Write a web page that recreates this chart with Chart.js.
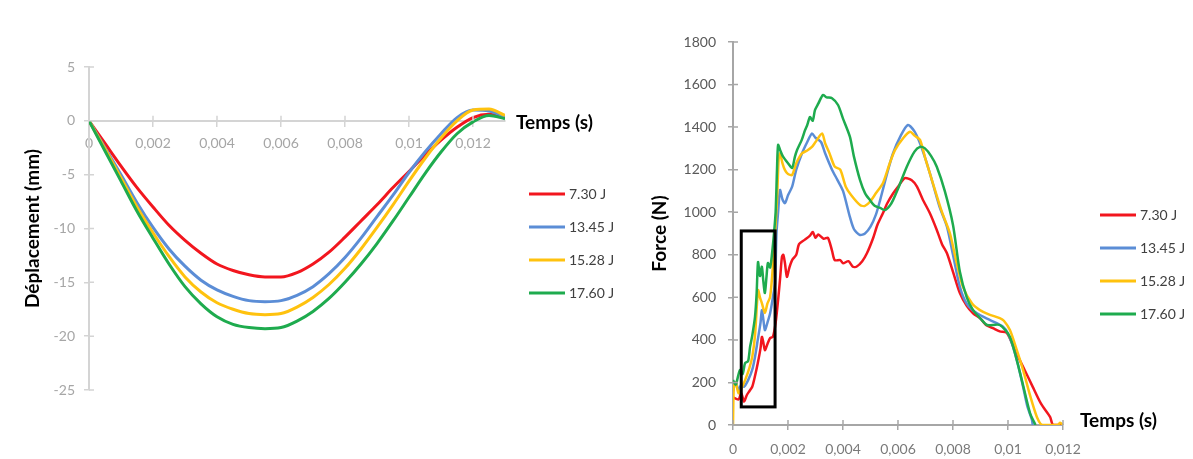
<!DOCTYPE html>
<html>
<head>
<meta charset="utf-8">
<script src="https://cdn.jsdelivr.net/npm/chart.js@4.4.1/dist/chart.umd.min.js"></script>
<style>
  html, body { margin: 0; padding: 0; background: #fff; overflow: hidden; }
  #wrap { position: relative; width: 1193px; height: 459px; }
  .panel { position: absolute; top: 0; height: 459px; }
</style>
</head>
<body>
<div id="wrap">
  <div class="panel" style="left:0;width:620px"><canvas id="dispChart"></canvas></div>
  <div class="panel" style="left:620px;width:573px"><canvas id="forceChart"></canvas></div>
</div>
<script>
// ---- data ----
const energyLabels = ["7.30 J", "13.45 J", "15.28 J", "17.60 J"];

// displacement (mm) vs time (s)
const dispTime = [0, 0.0005, 0.001, 0.0015, 0.002, 0.0025, 0.003, 0.0035, 0.004, 0.0045, 0.005, 0.0055, 0.006,
  0.0065, 0.007, 0.0075, 0.008, 0.0085, 0.009, 0.0095, 0.01, 0.0105, 0.011, 0.0115, 0.012, 0.0125, 0.013];
const disp730 = [0, -2.1, -4.2, -6.2, -8.0, -9.7, -11.1, -12.3, -13.3, -13.9, -14.3, -14.5, -14.5,
  -14.1, -13.3, -12.2, -10.8, -9.3, -7.8, -6.2, -4.7, -3.2, -1.8, -0.6, 0.3, 0.6, 0.3];
const disp1345 = [0, -2.5, -5.0, -7.6, -9.9, -11.9, -13.5, -14.8, -15.7, -16.3, -16.7, -16.8, -16.7,
  -16.2, -15.4, -14.2, -12.7, -10.9, -8.9, -6.9, -4.8, -2.9, -1.2, 0.3, 1.0, 0.9, 0.4];
const disp1528 = [0, -2.6, -5.3, -8.0, -10.4, -12.6, -14.5, -15.9, -16.9, -17.5, -17.9, -18.0, -17.9,
  -17.3, -16.4, -15.2, -13.7, -11.9, -9.9, -7.8, -5.6, -3.5, -1.6, 0.0, 1.0, 1.1, 0.5];
const disp1760 = [0, -2.8, -5.6, -8.4, -10.9, -13.3, -15.4, -17.0, -18.2, -18.9, -19.2, -19.3, -19.2,
  -18.6, -17.7, -16.5, -15.0, -13.3, -11.4, -9.3, -7.1, -4.9, -2.9, -1.2, -0.1, 0.5, 0.2];

// force (N) vs time (s), [t, F]
const force730 = [[0,130],[0.0002,120],[0.0003,150],[0.0004,110],[0.0005,140],[0.0006,160],[0.0007,180],
  [0.0008,230],[0.0009,290],[0.001,360],[0.00105,414],[0.0011,390],[0.00116,352],[0.00125,380],[0.00135,409],
  [0.00145,414],[0.00155,480],[0.00164,587],[0.00172,700],[0.00178,790],[0.00183,800],[0.00189,760],
  [0.00196,696],[0.00205,740],[0.00215,775],[0.0023,800],[0.0024,850],[0.0026,870],[0.0028,890],[0.0029,907],
  [0.003,880],[0.0031,895],[0.0033,875],[0.00345,880],[0.0036,820],[0.0037,775],[0.0039,775],[0.004,760],
  [0.0042,770],[0.00436,744],[0.0045,745],[0.0047,770],[0.00487,807],[0.0051,880],[0.00525,940],[0.00545,995],
  [0.0056,1040],[0.00582,1088],[0.006,1120],[0.00625,1160],[0.0065,1150],[0.00669,1120],[0.0069,1060],
  [0.00716,995],[0.0074,920],[0.0076,850],[0.00778,807],[0.008,720],[0.00825,620],[0.0085,560],[0.00873,525],
  [0.009,500],[0.0092,470],[0.00945,455],[0.0097,440],[0.00996,432],[0.0103,338],[0.0106,260],[0.0109,179],
  [0.0112,100],[0.01153,38],[0.01164,0],[0.012,0]];
const force1345 = [[0,160],[0.0001,200],[0.0002,164],[0.0003,190],[0.0004,180],[0.00055,211],[0.0007,260],
  [0.0008,320],[0.0009,400],[0.001,480],[0.00105,540],[0.0011,500],[0.00116,446],[0.00125,480],[0.00135,525],
  [0.00145,600],[0.00153,667],[0.00158,900],[0.00164,1000],[0.00171,1104],[0.0018,1060],[0.00189,1043],
  [0.002,1080],[0.00215,1120],[0.0023,1200],[0.00251,1277],[0.0027,1330],[0.00287,1370],[0.003,1350],
  [0.0032,1330],[0.00335,1277],[0.0036,1200],[0.0038,1151],[0.004,1100],[0.00425,978],[0.0044,920],
  [0.00462,893],[0.0048,900],[0.005,932],[0.0052,990],[0.00535,1057],[0.0056,1180],[0.00582,1277],
  [0.0061,1360],[0.00636,1410],[0.0066,1380],[0.0068,1324],[0.007,1250],[0.00716,1183],[0.0075,1030],
  [0.00778,932],[0.008,800],[0.00825,649],[0.0085,570],[0.00887,525],[0.00935,493],[0.00982,462],[0.01,430],
  [0.01018,368],[0.01035,290],[0.01055,179],[0.0107,90],[0.01087,25],[0.0109,0]];
const force1528 = [[0,0],[0.00003,180],[0.0001,200],[0.0002,150],[0.0003,170],[0.00044,211],[0.0006,270],
  [0.0007,320],[0.0008,420],[0.00091,634],[0.00098,600],[0.00105,573],[0.00116,526],[0.00125,570],[0.00135,602],
  [0.00145,744],[0.0016,1057],[0.00166,1250],[0.00171,1277],[0.0018,1230],[0.00189,1198],[0.002,1180],
  [0.00215,1175],[0.0023,1230],[0.00251,1277],[0.0027,1290],[0.00287,1307],[0.003,1330],[0.00324,1370],
  [0.00335,1324],[0.0035,1280],[0.0037,1214],[0.0039,1200],[0.0041,1120],[0.0043,1080],[0.00462,1034],
  [0.0048,1030],[0.00498,1049],[0.0052,1090],[0.00545,1136],[0.0057,1230],[0.00589,1292],[0.0062,1350],
  [0.00644,1378],[0.0066,1360],[0.0068,1340],[0.007,1250],[0.00727,1136],[0.0076,1000],[0.00789,900],
  [0.0081,780],[0.00836,649],[0.0087,570],[0.00898,540],[0.0093,520],[0.0097,502],[0.00985,490],[0.01007,446],
  [0.0103,360],[0.01055,258],[0.0108,140],[0.01105,38],[0.01124,0],[0.0118,0],[0.0119,10],[0.012,0]];
const force1760 = [[0,211],[0.0001,190],[0.00025,258],[0.00035,240],[0.00044,291],[0.00055,300],[0.00062,367],
  [0.0007,420],[0.0008,508],[0.00086,620],[0.00091,766],[0.00098,700],[0.00105,744],[0.0011,680],[0.00116,620],
  [0.00122,700],[0.00127,761],[0.00135,740],[0.00142,807],[0.00149,900],[0.00155,1000],[0.0016,1200],
  [0.00164,1316],[0.00172,1290],[0.00182,1261],[0.002,1230],[0.00215,1208],[0.00225,1260],[0.00233,1292],
  [0.0025,1340],[0.00262,1386],[0.0027,1410],[0.0028,1447],[0.0029,1430],[0.00298,1480],[0.0031,1510],
  [0.00327,1551],[0.0034,1540],[0.0036,1536],[0.00382,1504],[0.004,1440],[0.00425,1355],[0.0044,1260],
  [0.00462,1151],[0.0048,1090],[0.00498,1057],[0.00515,1030],[0.00535,1020],[0.00553,1010],[0.0057,1030],
  [0.00582,1057],[0.006,1110],[0.00632,1214],[0.0066,1285],[0.0068,1307],[0.00698,1300],[0.0072,1265],
  [0.00741,1214],[0.0077,1100],[0.008,940],[0.00825,720],[0.0085,600],[0.00873,540],[0.009,500],[0.00924,470],
  [0.0097,470],[0.01007,414],[0.01044,244],[0.0108,56],[0.011,0]];

// highlighted region on the force plot (time range, force range)
const boxTime = [0.0003, 0.00153];
const boxForce = [85, 912];

// tick values
const timeTicks = [0, 0.002, 0.004, 0.006, 0.008, 0.01, 0.012];
const dispTicks = [5, 0, -5, -10, -15, -20, -25];
const forceTicks = [0, 200, 400, 600, 800, 1000, 1200, 1400, 1600, 1800];

const lineColors = ["#f2161e", "#5b8dd6", "#ffc20e", "#1eab4e"];

Chart.defaults.font.family = "Lato, 'Open Sans', sans-serif";

// ---- small helper plugins ----
const sideLegend = {
    id: "sideLegend",
    afterDraw(chart, args, opts) {
        const ctx = chart.ctx;
        ctx.save();
        ctx.font = opts.font;
        ctx.textBaseline = "middle";
        chart.data.datasets.forEach((ds, i) => {
            const y = opts.y + i * opts.gap;
            ctx.strokeStyle = ds.borderColor;
            ctx.lineWidth = 3;
            ctx.beginPath();
            ctx.moveTo(opts.x, y);
            ctx.lineTo(opts.x + 36, y);
            ctx.stroke();
            ctx.fillStyle = "#404040";
            ctx.fillText(ds.label, opts.x + 40, y);
        });
        ctx.restore();
    }
};

const endTitle = {
    id: "endTitle",
    afterDraw(chart, args, opts) {
        const ctx = chart.ctx;
        const xs = chart.scales.x, ys = chart.scales.y;
        ctx.save();
        ctx.font = "bold 19px Lato";
        ctx.fillStyle = "#000";
        ctx.textBaseline = "middle";
        ctx.fillText(opts.text, xs.right + opts.dx, ys.getPixelForValue(0) + opts.dy);
        ctx.restore();
    }
};

// tick marks on the inner side of the axes (they cross the axis line)
const innerTicks = {
    id: "innerTicks",
    afterDraw(chart, args, opts) {
        const ctx = chart.ctx;
        const xs = chart.scales.x, ys = chart.scales.y;
        const y0 = ys.getPixelForValue(0), x0 = xs.getPixelForValue(0);
        ctx.save();
        ctx.strokeStyle = opts.color;
        ctx.lineWidth = 1.5;
        ctx.beginPath();
        xs.ticks.forEach(t => {
            const px = xs.getPixelForValue(t.value);
            ctx.moveTo(px, y0);
            ctx.lineTo(px, y0 - 5);
        });
        ys.ticks.forEach(t => {
            const py = ys.getPixelForValue(t.value);
            ctx.moveTo(x0, py);
            ctx.lineTo(x0 + 5, py);
        });
        ctx.stroke();
        ctx.restore();
    }
};

const zoomBox = {
    id: "zoomBox",
    afterDatasetsDraw(chart) {
        const ctx = chart.ctx;
        const xs = chart.scales.x, ys = chart.scales.y;
        const x1 = xs.getPixelForValue(boxTime[0]), x2 = xs.getPixelForValue(boxTime[1]);
        const y1 = ys.getPixelForValue(boxForce[1]), y2 = ys.getPixelForValue(boxForce[0]);
        ctx.save();
        ctx.strokeStyle = "#000";
        ctx.lineWidth = 3;
        ctx.strokeRect(x1, y1, x2 - x1, y2 - y1);
        ctx.restore();
    }
};

function timeLabel(v) {
    return v === 0 ? "0" : String(+v.toFixed(3)).replace(".", ",");
}

// ---- displacement chart ----
const dispSeries = [disp730, disp1345, disp1528, disp1760];
new Chart(document.getElementById("dispChart"), {
    type: "line",
    data: {
        datasets: dispSeries.map((s, i) => ({
            label: energyLabels[i],
            data: dispTime.map((t, k) => ({ x: t, y: s[k] })),
            borderColor: lineColors[i],
            borderWidth: 3,
            pointRadius: 0,
            cubicInterpolationMode: "monotone",
            order: 3 - i
        }))
    },
    options: {
        responsive: true,
        maintainAspectRatio: false,
        animation: false,
        layout: { padding: { left: 0, right: 115, top: 67, bottom: 69 } },
        plugins: {
            legend: { display: false },
            tooltip: { enabled: false },
            sideLegend: { x: 529, y: 194, gap: 33, font: "14px Lato" },
            endTitle: { text: "Temps (s)", dx: 11, dy: 2 },
            innerTicks: { color: "#d4d4d4" }
        },
        scales: {
            x: {
                type: "linear",
                position: { y: 0 },
                min: 0,
                max: 0.013,
                afterBuildTicks: s => { s.ticks = timeTicks.map(v => ({ value: v })); },
                afterFit: s => { s.height = 0; },
                grid: { drawOnChartArea: false, tickLength: 5, color: "#d4d4d4", lineWidth: 1.5 },
                border: { color: "#d4d4d4", width: 2 },
                ticks: { color: "#a6a6a6", font: { size: 14 }, padding: 9, maxRotation: 0, callback: timeLabel }
            },
            y: {
                min: -25,
                max: 5,
                afterBuildTicks: s => { s.ticks = dispTicks.map(v => ({ value: v })); },
                afterFit: s => { s.width = 89; },
                grid: { drawOnChartArea: false, tickLength: 5, color: "#d4d4d4", lineWidth: 1.5 },
                border: { color: "#d4d4d4", width: 2 },
                ticks: { color: "#a6a6a6", font: { size: 14 }, padding: 9, callback: v => String(v) },
                title: { display: true, text: "Déplacement (mm)", color: "#000",
                         font: { size: 19, weight: "bold" }, padding: { top: 21, bottom: 0 } }
            }
        }
    },
    plugins: [sideLegend, endTitle, innerTicks]
});

// ---- force chart ----
const forceSeries = [force730, force1345, force1528, force1760];
new Chart(document.getElementById("forceChart"), {
    type: "line",
    data: {
        datasets: forceSeries.map((s, i) => ({
            label: energyLabels[i],
            data: s.map(p => ({ x: p[0], y: p[1] })),
            borderColor: lineColors[i],
            borderWidth: 2.5,
            pointRadius: 0,
            tension: 0.25,
            order: 3 - i
        }))
    },
    options: {
        responsive: true,
        maintainAspectRatio: false,
        animation: false,
        layout: { padding: { left: 0, right: 130, top: 42, bottom: 0 } },
        plugins: {
            legend: { display: false },
            tooltip: { enabled: false },
            sideLegend: { x: 480, y: 215, gap: 33, font: "14px Lato" },
            endTitle: { text: "Temps (s)", dx: 17, dy: -4 },
            innerTicks: { color: "#a6a6a6" }
        },
        scales: {
            x: {
                type: "linear",
                min: 0,
                max: 0.012,
                afterBuildTicks: s => { s.ticks = timeTicks.map(v => ({ value: v })); },
                afterFit: s => { s.height = 34; },
                grid: { drawOnChartArea: false, tickLength: 5, color: "#a6a6a6", lineWidth: 1.5 },
                border: { color: "#a6a6a6", width: 2 },
                ticks: { color: "#7a7a7a", font: { size: 14 }, padding: 11, maxRotation: 0, callback: timeLabel }
            },
            y: {
                min: 0,
                max: 1800,
                afterBuildTicks: s => { s.ticks = forceTicks.map(v => ({ value: v })); },
                afterFit: s => { s.width = 113; },
                grid: { drawOnChartArea: false, tickLength: 5, color: "#a6a6a6", lineWidth: 1.5 },
                border: { color: "#a6a6a6", width: 2 },
                ticks: { color: "#595959", font: { size: 14 }, padding: 12, callback: v => String(v) },
                title: { display: true, text: "Force (N)", color: "#000",
                         font: { size: 19, weight: "bold" }, padding: { top: 28, bottom: 0 } }
            }
        }
    },
    plugins: [zoomBox, sideLegend, endTitle, innerTicks]
});
</script>
</body>
</html>
